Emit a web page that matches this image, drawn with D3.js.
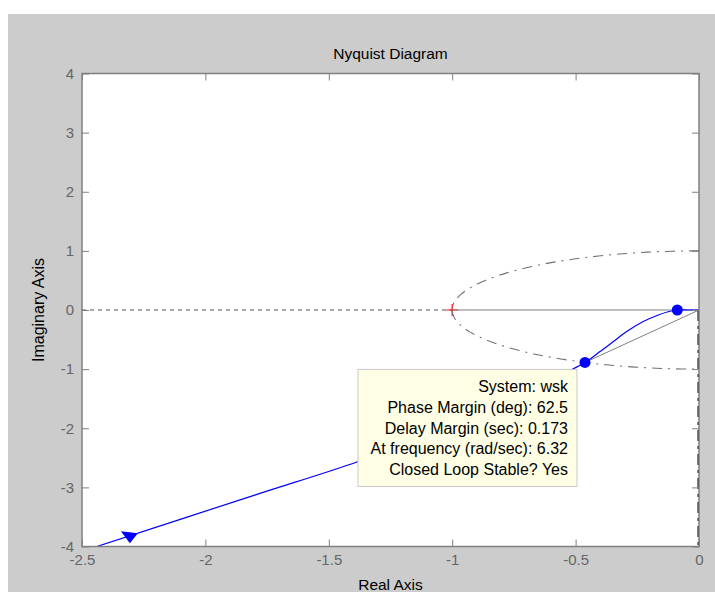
<!DOCTYPE html>
<html>
<head>
<meta charset="utf-8">
<script src="https://cdn.jsdelivr.net/npm/d3@7"></script>
<style>
	body { margin: 0; background: #fff; }
	text { font-family: "Liberation Sans", Arial, sans-serif; }
</style>
</head>
<body>
<div id="plot"></div>
<script>
var Amplada = 715;
var Alcada = 592;

// dades llegides de la figura
const xTicks = [-2.5, -2, -1.5, -1, -0.5, 0];
const yTicks = [-4, -3, -2, -1, 0, 1, 2, 3, 4];
const nyqRe = [0, -0.04, -0.088, -0.125, -0.165, -0.226, -0.293, -0.347, -0.401, -0.462, -0.55, -0.65, -0.8, -1.0, -1.2, -1.386, -1.8, -2.44, -2.7];
const nyqIm = [0, 0, 0, -0.03, -0.085, -0.196, -0.365, -0.534, -0.703, -0.887, -1.08, -1.31, -1.61, -1.95, -2.27, -2.57, -3.13, -4.0, -4.35];
const pm = {re: -0.462, im: -0.887};
const punt2 = {re: -0.088, im: 0};
const fletxa = {re: -2.31, im: -3.81};
const critic = {re: -1, im: 0};
const tipText = ['System: wsk', 'Phase Margin (deg): 62.5', 'Delay Margin (sec): 0.173', 'At frequency (rad/sec): 6.32', 'Closed Loop Stable? Yes'];

var marge = {dalt: 73.5, dreta: 16, baix: 45.5, esquerra: 82};
var amp = Amplada - marge.esquerra - marge.dreta,
	alc = Alcada - marge.dalt - marge.baix;

var svg = d3.select('#plot').append('svg')
	.attr('width', Amplada)
	.attr('height', Alcada);

// fons gris de la figura
svg.append('rect')
	.attr('x', 8).attr('y', 14)
	.attr('width', Amplada - 8).attr('height', Alcada - 14)
	.attr('fill', '#cccccc');

var x = d3.scaleLinear().domain([-2.5, 0]).range([0, amp]);
var y = d3.scaleLinear().domain([-4, 4]).range([alc, 0]);

var g = svg.append('g')
	.attr('transform', `translate(${marge.esquerra},${marge.dalt})`);

g.append('rect')
	.attr('width', amp).attr('height', alc)
	.attr('fill', 'white');

g.append('clipPath').attr('id', 'retall')
	.append('rect').attr('width', amp).attr('height', alc);

var ll = g.append('g').attr('clip-path', 'url(#retall)');

// eix real discontinu
ll.append('line')
	.attr('x1', x(-2.5)).attr('x2', x(-1))
	.attr('y1', y(0)).attr('y2', y(0))
	.attr('stroke', '#555').attr('stroke-dasharray', '4,4');

// punt crític
var cx = x(critic.re), cy = y(critic.im);
ll.append('path')
	.attr('d', `M${cx-6},${cy}H${cx+6}M${cx},${cy-6}V${cy+6}`)
	.attr('stroke', 'red').attr('stroke-width', 1.2);

// cercle unitat
var angles = d3.range(0, 361, 2);
ll.append('path')
	.attr('d', d3.line()
		.x(a => x(Math.cos(a * Math.PI / 180)))
		.y(a => y(Math.sin(a * Math.PI / 180)))(angles.map(a => a + 90)))
	.attr('fill', 'none')
	.attr('stroke', '#707070')
	.attr('stroke-width', 1.1)
	.attr('stroke-dasharray', '10,6,2,6');

// línia sòlida sobre l'eix real
ll.append('line')
	.attr('x1', x(-1)).attr('x2', x(0))
	.attr('y1', y(0)).attr('y2', y(0))
	.attr('stroke', '#808080');

// línia del marge de fase
ll.append('line')
	.attr('x1', x(0)).attr('y1', y(0))
	.attr('x2', x(pm.re)).attr('y2', y(pm.im))
	.attr('stroke', '#808080');

// línia negra a x=0
ll.append('line')
	.attr('x1', x(0)).attr('x2', x(0))
	.attr('y1', y(0)).attr('y2', y(-4))
	.attr('stroke', 'black').attr('stroke-width', 3)
	.attr('stroke-dasharray', '11,5,3,5');

// corba de Nyquist
ll.append('path')
	.attr('d', d3.line()
		.x((_, i) => x(nyqRe[i]))
		.y((_, i) => y(nyqIm[i]))
		.curve(d3.curveCatmullRom)(nyqRe))
	.attr('fill', 'none')
	.attr('stroke', 'blue')
	.attr('stroke-width', 1.2);

// fletxa
var fx = x(fletxa.re), fy = y(fletxa.im);
ll.append('path')
	.attr('d', `M${fx-8},${fy-4}L${fx+9},${fy-2}L${fx+1},${fy+8}Z`)
	.attr('fill', 'blue');

// punts
[pm, punt2].forEach(p => {
	ll.append('circle')
		.attr('cx', x(p.re)).attr('cy', y(p.im))
		.attr('r', 5.5)
		.attr('fill', 'blue');
});

// eixos
var colEix = '#808080';
var fmt = d => String(d);
function estil(sel) {
	sel.select('.domain').remove();
	sel.selectAll('line').attr('stroke', colEix);
	sel.selectAll('text').attr('fill', '#666').style('font-size', '15px');
}
g.append('g').attr('transform', `translate(0,${alc})`)
	.call(d3.axisBottom(x).tickValues(xTicks).tickSize(-7).tickPadding(8).tickFormat(fmt))
	.call(estil);
g.append('g')
	.call(d3.axisTop(x).tickValues(xTicks).tickSize(-7).tickFormat(''))
	.call(estil);
g.append('g')
	.call(d3.axisLeft(y).tickValues(yTicks).tickSize(-7).tickPadding(8).tickFormat(fmt))
	.call(estil);
g.append('g').attr('transform', `translate(${amp},0)`)
	.call(d3.axisRight(y).tickValues(yTicks).tickSize(-7).tickFormat(''))
	.call(estil);

g.append('rect')
	.attr('width', amp).attr('height', alc)
	.attr('fill', 'none')
	.attr('stroke', colEix)
	.attr('stroke-width', 1.5);

g.selectAll('.tick text').style('font-family', '"Liberation Sans", Arial, sans-serif');

// caixa d'informació
var bx = x(pm.re) - 227, by = y(pm.im) + 7;
var caixa = g.append('g').attr('transform', `translate(${bx},${by})`);
caixa.append('rect')
	.attr('width', 219).attr('height', 117)
	.attr('fill', '#ffffe6')
	.attr('stroke', '#c8c8c8');
caixa.selectAll('text')
	.data(tipText)
	.enter()
	.append('text')
		.attr('x', 210)
		.attr('y', (d, i) => 23 + i * 20.6)
		.attr('text-anchor', 'end')
		.style('font-size', '16px')
		.attr('fill', 'black')
		.text(d => d);

// títols
svg.append('text')
	.attr('x', marge.esquerra + amp / 2).attr('y', 59)
	.attr('text-anchor', 'middle')
	.style('font-size', '15.5px')
	.text('Nyquist Diagram');
svg.append('text')
	.attr('x', marge.esquerra + amp / 2).attr('y', 590)
	.attr('text-anchor', 'middle')
	.style('font-size', '15.5px')
	.text('Real Axis');
svg.append('text')
	.attr('transform', `translate(44,${marge.dalt + alc / 2}) rotate(-90)`)
	.attr('text-anchor', 'middle')
	.style('font-size', '16px')
	.text('Imaginary Axis');
</script>
</body>
</html>
